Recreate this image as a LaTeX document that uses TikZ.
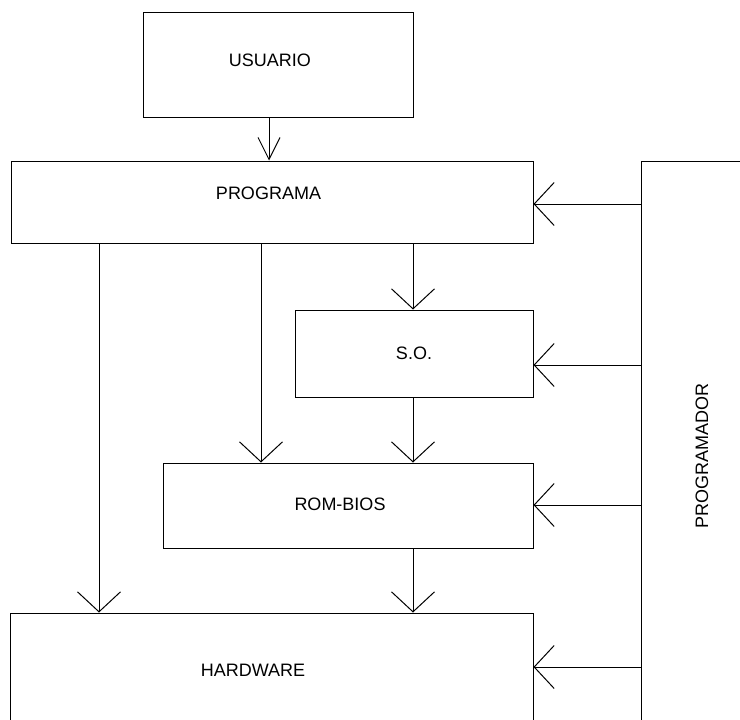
\documentclass[tikz,border=0pt]{standalone}
\usepackage{fontspec}
\setmainfont{Liberation Sans}
\usetikzlibrary{arrows.meta}
\begin{document}
\begin{tikzpicture}[x=1pt, y=-1pt, line width=1pt,
  box/.style={draw, rectangle, inner sep=0pt},
  lbl/.style={font=\fontsize{18}{21}\selectfont, inner sep=0pt},
  arr/.style={-{Straight Barb[length=20pt,width=43pt]}},
  narrowarr/.style={-{Straight Barb[length=22pt,width=22pt]}}]
\useasboundingbox (0,0) rectangle (740,720);
\clip (0,0) rectangle (740,720);

% boxes
\node[box, minimum width=270pt, minimum height=105pt] (usuario)  at (278,64.5)   {};
\node[box, minimum width=522pt, minimum height=82pt]  (programa) at (272,202)    {};
\node[box, minimum width=238pt, minimum height=87pt]  (so)       at (414,353.5)  {};
\node[box, minimum width=370pt, minimum height=85pt]  (rombios)  at (348,505.5)  {};
\node[box, minimum width=523pt, minimum height=147pt] (hardware) at (271.5,686.5){};
\node[box, minimum width=119pt, minimum height=599pt] (progr)    at (700.5,460.5){};

% labels
\node[lbl] (tusuario)  at (270,60)    {USUARIO};
\node[lbl] (tprograma) at (268.5,193.5) {PROGRAMA};
\node[lbl] (tso)       at (414,353)   {S.O.};
\node[lbl] (trombios)  at (340,504)   {ROM-BIOS};
\node[lbl] (thardware) at (253,670)   {HARDWARE};
\node[lbl, rotate=90] (tprogr) at (702,456) {PROGRAMADOR};

% user to program
\draw[narrowarr] (usuario.south -| 269,0) -- (programa.north -| 269,0);

% program downwards
\draw[arr] (programa.south -| 99,0)  -- (hardware.north -| 99,0);
\draw[arr] (programa.south -| 261,0) -- (rombios.north -| 261,0);
\draw[arr] (programa.south -| 413,0) -- (so.north -| 413,0);
\draw[arr] (so.south -| 413,0)       -- (rombios.north -| 413,0);
\draw[arr] (rombios.south -| 413,0)  -- (hardware.north -| 413,0);

% programmer to every level
\draw[arr] (progr.west |- 0,204) -- (programa.east |- 0,204);
\draw[arr] (progr.west |- 0,365) -- (so.east |- 0,365);
\draw[arr] (progr.west |- 0,505) -- (rombios.east |- 0,505);
\draw[arr] (progr.west |- 0,667) -- (hardware.east |- 0,667);
\end{tikzpicture}
\end{document}
